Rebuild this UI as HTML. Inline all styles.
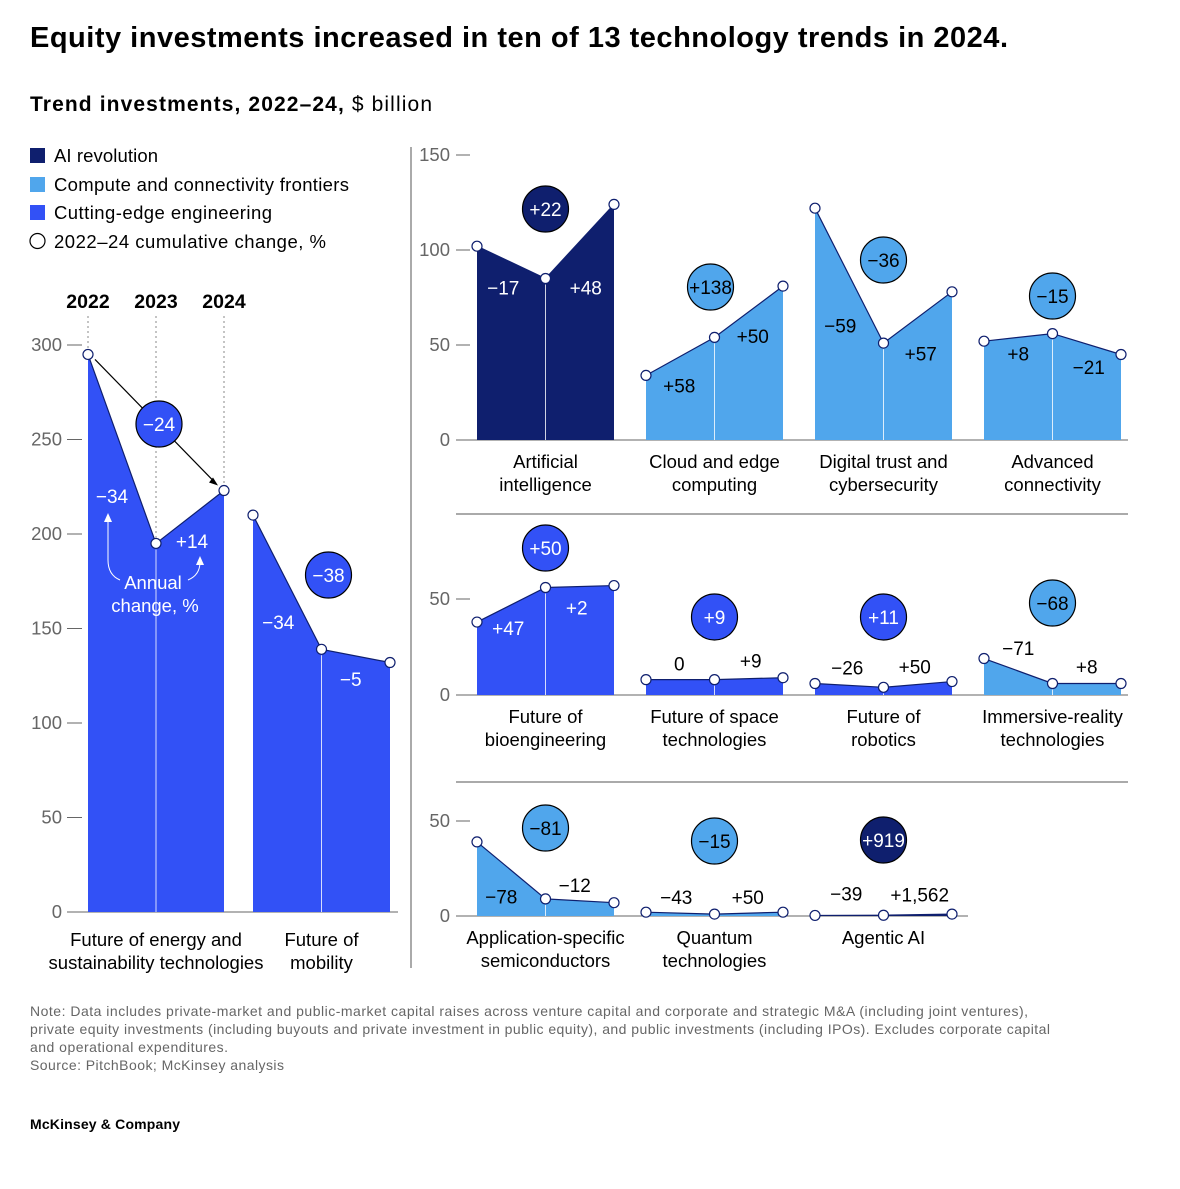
<!DOCTYPE html>
<html><head><meta charset="utf-8">
<style>
body{margin:0;background:#fff;font-family:"Liberation Sans",Arial,sans-serif;}
#wrap{position:relative;width:1180px;height:1184px;}
svg text{font-family:"Liberation Sans",Arial,sans-serif;}
</style></head>
<body>
<div id="wrap">
<svg id="svg" width="1180" height="1184" viewBox="0 0 1180 1184">
<text x="30" y="47" font-size="29" font-weight="bold" fill="#000" textLength="978">Equity investments increased in ten of 13 technology trends in 2024.</text>
<text x="30" y="111" font-size="21" fill="#000" textLength="402"><tspan font-weight="bold">Trend investments, 2022–24,</tspan> $ billion</text>
<g>
<rect x="30" y="148" width="15" height="15" fill="#0f1f6e"/>
<text x="54" y="162" font-size="18.5" textLength="104">AI revolution</text>
<rect x="30" y="177" width="15" height="15" fill="#50a6ec"/>
<text x="54" y="191" font-size="18.5" textLength="295">Compute and connectivity frontiers</text>
<rect x="30" y="205" width="15" height="15" fill="#3251f6"/>
<text x="54" y="219" font-size="18.5" textLength="218">Cutting-edge engineering</text>
<circle cx="37.5" cy="241" r="7.5" fill="#fff" stroke="#000" stroke-width="1.2"/>
<text x="54" y="248" font-size="18.5" textLength="272">2022–24 cumulative change, %</text>
</g>
<line x1="411" y1="147" x2="411" y2="968" stroke="#555" stroke-width="1"/>
<line x1="456" y1="514" x2="1128" y2="514" stroke="#555" stroke-width="1"/>
<line x1="456" y1="782" x2="1128" y2="782" stroke="#555" stroke-width="1"/>
<g id="g"></g>
<text x="30" y="1016" font-size="14" fill="#666" textLength="998">Note: Data includes private-market and public-market capital raises across venture capital and corporate and strategic M&amp;A (including joint ventures),</text>
<text x="30" y="1034" font-size="14" fill="#666" textLength="1020">private equity investments (including buyouts and private investment in public equity), and public investments (including IPOs). Excludes corporate capital</text>
<text x="30" y="1052" font-size="14" fill="#666" textLength="198">and operational expenditures.</text>
<text x="30" y="1070" font-size="14" fill="#666" textLength="254">Source: PitchBook; McKinsey analysis</text>
<text x="30" y="1129" font-size="14" font-weight="bold" fill="#000" textLength="150">McKinsey &amp; Company</text>
</svg>
</div>
<script>
// ---- data ----
const years = ["2022","2023","2024"];
const trendNames = ["Future of energy and|sustainability technologies","Future of|mobility","Artificial|intelligence","Cloud and edge|computing","Digital trust and|cybersecurity","Advanced|connectivity","Future of|bioengineering","Future of space|technologies","Future of|robotics","Immersive-reality|technologies","Application-specific|semiconductors","Quantum|technologies","Agentic AI"];
const trendGroups = ["eng","eng","ai","cc","cc","cc","eng","eng","eng","cc","cc","cc","ai"];
const values2022 = [295,210,102,34,122,52,38,8,6,19,39,2,0.3];
const values2023 = [195,139,85,54,51,56,56,8,4,6,9,1,0.4];
const values2024 = [223,132,124,81,78,45,57,9,7,6,7,2,1];
const change2223 = ["−34","−34","−17","+58","−59","+8","+47","0","−26","−71","−78","−43","−39"];
const change2324 = ["+14","−5","+48","+50","+57","−21","+2","+9","+50","+8","−12","+50","+1,562"];
const cumulative = ["−24","−38","+22","+138","−36","−15","+50","+9","+11","−68","−81","−15","+919"];
const leftTicks = [0,50,100,150,200,250,300];
const topTicks = [0,50,100,150];
const lowTicks = [0,50];

// ---- layout ----
const colors = {ai:"#0f1f6e",cc:"#50a6ec",eng:"#3251f6"};
const NS="http://www.w3.org/2000/svg";
const G=document.getElementById('g');
function el(t,a,p){const e=document.createElementNS(NS,t);for(const k in a)e.setAttribute(k,a[k]);(p||G).appendChild(e);return e;}
function txt(x,y,s,a,p){const e=el('text',Object.assign({x:x,y:y,'font-size':18,'text-anchor':'middle',fill:'#000'},a||{}),p);e.textContent=s;return e;}

// panels: [x0, step, baseY, pxPerUnit, bubbleY, dy1, dy2, inside1, inside2, bubbleDx, dx1, dx2]
const panels = [
 [88,68,912,1.89,424,0,0,1,1,3,-10,2],
 [253,68.5,912,1.89,575,41,24,1,1,7,-9,-5],
 [477,68.5,440,1.9,209,26,47,1,1,0,-8,6],
 [646,68.5,440,1.9,287,30,25,1,1,-4,-1,4],
 [815,68.5,440,1.9,260,51,37,1,1,0,-9,3],
 [984,68.5,440,1.9,296,17,24,1,1,0,0,2],
 [477,68.5,695,1.92,548,24,22,1,1,0,-3,-3],
 [646,68.5,695,1.92,617,-15,-17,0,0,0,-1,2],
 [815,68.5,695,1.92,617,-17,-17,0,0,0,-2,-3],
 [984,68.5,695,1.92,603,-22,-16,0,0,0,0,0],
 [477,68.5,916,1.9,828,27,-15,1,0,0,-10,-5],
 [646,68.5,916,1.9,841,-15,-15,0,0,0,-4,-1],
 [815,68.5,916,1.9,840,-21,-19,0,0,0,-3,2]
];

function axis(ticks,base,ppu,xLab,x1,x2,name){
  ticks.forEach(t=>{const y=base-t*ppu;
    const tl=txt(xLab,y+6,String(t),{'text-anchor':'end',fill:'#666','font-size':18.5});
    
    
    const ln=el('line',{x1:x1,x2:x2,y1:y,y2:y,stroke:'#666','stroke-width':1});
    
    
  });
}
axis(leftTicks,912,1.89,62,67,82,'left-y-axis');
axis(topTicks,440,1.9,450,456,470,'top-y-axis');
axis(lowTicks,695,1.92,450,456,470,'middle-y-axis');
axis(lowTicks,916,1.9,450,456,470,'bottom-y-axis');
[[82,398,912],[470,1128,440],[470,1128,695],[470,968,916]].forEach((b,i)=>{
  const l=el('line',{x1:b[0],x2:b[1],y1:b[2],y2:b[2],stroke:'#666','stroke-width':1});
  
  
});

years.forEach((yr,i)=>{
  const x=88+i*68;
  const t=txt(x,308,yr,{'font-weight':'bold','font-size':19.5});
  
  
  const v=[values2022,values2023,values2024][i][0];
  const d=el('line',{x1:x,x2:x,y1:316,y2:912-v*1.89,stroke:'#888','stroke-dasharray':'2,3','stroke-width':1});
  
  
});

panels.forEach((p,i)=>{
  const [x0,st,base,ppu,by,dy1,dy2,in1,in2,bdx,dx1,dx2]=p;
  const vals=[values2022[i],values2023[i],values2024[i]];
  const xs=vals.map((v,j)=>x0+j*st), ys=vals.map(v=>base-v*ppu);
  const col=colors[trendGroups[i]];
  const insideCol=trendGroups[i]==='cc'?'#000':'#fff';
  const g=el('g',{});
  
  
  const area=el('path',{d:`M${xs[0]},${base}L${xs[0]},${ys[0]}L${xs[1]},${ys[1]}L${xs[2]},${ys[2]}L${xs[2]},${base}Z`,fill:col},g);
  
  
  const ln=el('polyline',{points:xs.map((x,j)=>x+','+ys[j]).join(' '),fill:'none',stroke:'#0f1f6e','stroke-width':1.2},g);
  
  
  const vl=el('line',{x1:xs[1],x2:xs[1],y1:ys[1]+6,y2:base,stroke:'#fff','stroke-width':1,opacity:0.8},g);
  
  
  [[change2223[i],dy1,in1,0,dx1],[change2324[i],dy2,in2,1,dx2]].forEach(c=>{
    const mx=(xs[c[3]]+xs[c[3]+1])/2+c[4], my=(ys[c[3]]+ys[c[3]+1])/2;
    let yy=my+c[1];
    if(i===0){yy=c[3]===0?497:542;}
    const t=txt(mx,yy+6,c[0],{fill:c[2]?insideCol:'#000','font-size':19},g);
    
    
  });
  xs.forEach((x,j)=>{
    const pt=el('circle',{cx:x,cy:ys[j],r:5,fill:'#fff',stroke:'#0f1f6e','stroke-width':1.2},g);
    
    
  });
  if(i===0){
    const ar=el('line',{x1:xs[0]+7,y1:ys[0]+5,x2:xs[2]-8,y2:ys[2]-7,stroke:'#000','stroke-width':1.2},g);
    
    
    const ah=el('path',{d:`M${xs[2]-6},${ys[2]-5}l-9,-3l4,-5z`,fill:'#000'},g);
    
    
  }
  const bx=xs[1]+bdx;
  const bc=el('circle',{cx:bx,cy:by,r:23,fill:col,stroke:'#000','stroke-width':1.2},g);
  
  
  const bt=txt(bx,by+7,cumulative[i],{fill:trendGroups[i]==='cc'?'#000':'#fff','font-size':19},g);
  
  
  const lines=trendNames[i].split('|');
  const cy=base+(i<2?34:28);
  lines.forEach((s,k)=>{
    const t=txt(xs[1],cy+k*23,s,{'font-size':18.5},g);
    
    
  });
});
const an=el('g',{});


txt(153,589,'Annual',{fill:'#fff','font-size':18.5},an);
txt(155,612,'change, %',{fill:'#fff','font-size':18.5},an);
el('path',{d:'M120,580 Q108,575 108,560 L108,518',fill:'none',stroke:'#fff','stroke-width':1},an);
el('path',{d:'M104,522 L108,513 L112,522Z',fill:'#fff'},an);
el('path',{d:'M188,580 Q200,575 200,562',fill:'none',stroke:'#fff','stroke-width':1},an);
el('path',{d:'M196,565 L200,556 L204,565Z',fill:'#fff'},an);
</script>
</body></html>
